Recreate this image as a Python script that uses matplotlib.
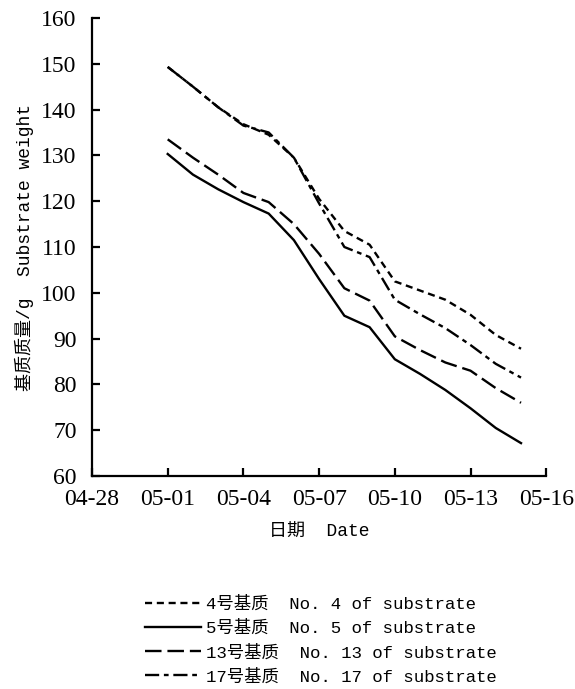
import numpy as np
import matplotlib
matplotlib.use("Agg")
import matplotlib.pyplot as plt
import matplotlib.dates as mdates
from datetime import date, timedelta

# 日期: 05-01 ~ 05-15
dates = [date(2000, 5, 1) + timedelta(days=i) for i in range(15)]

# 基质质量 / g
no4 = [149.3, 145.0, 140.5, 136.8, 134.5, 129.5, 120.5, 113.5, 110.5, 102.5, 100.5, 98.5, 95.2, 90.8, 87.8]
no5 = [130.3, 125.8, 122.6, 119.8, 117.3, 111.5, 103.0, 95.0, 92.5, 85.5, 82.3, 78.8, 74.8, 70.5, 67.2]
no13 = [133.5, 129.5, 125.8, 121.8, 119.8, 115.0, 108.5, 101.0, 98.3, 90.5, 87.5, 84.8, 83.0, 79.2, 76.0]
no17 = [149.3, 145.0, 140.5, 136.5, 135.0, 129.5, 119.5, 110.0, 107.8, 98.5, 95.3, 92.3, 88.6, 84.5, 81.5]

labels = ["4号基质  No. 4 of substrate", "5号基质  No. 5 of substrate",
          "13号基质  No. 13 of substrate", "17号基质  No. 17 of substrate"]

xticks = [date(2000, 4, 28) + timedelta(days=3 * i) for i in range(7)]
yticks = np.arange(60, 161, 10)

serif = ["Liberation Serif", "Noto Sans CJK SC"]
mono = ["Liberation Mono", "Noto Sans CJK SC"]

fig = plt.figure(figsize=(5.75, 6.89), dpi=100)
ax = fig.add_axes([0.16, 0.309, 0.79, 0.665])

lw = 1.7
ax.plot(dates, no4, color="black", lw=lw, linestyle=(0, (3, 2)), label=labels[0])
ax.plot(dates, no5, color="black", lw=lw, linestyle="-", label=labels[1])
ax.plot(dates, no13, color="black", lw=lw, linestyle=(0, (7, 2.5)), label=labels[2])
ax.plot(dates, no17, color="black", lw=lw, linestyle=(0, (6, 2, 2, 2)), label=labels[3])

ax.set_xlim(xticks[0], xticks[-1])
ax.set_ylim(60, 160)
ax.set_xticks(xticks)
ax.xaxis.set_major_formatter(mdates.DateFormatter("%m-%d"))
ax.set_yticks(yticks)

for s in ["top", "right"]:
    ax.spines[s].set_visible(False)
for s in ["left", "bottom"]:
    ax.spines[s].set_linewidth(1.6)

ax.tick_params(direction="in", length=6, width=1.6)
ax.tick_params(axis="x", pad=9)
ax.tick_params(axis="y", pad=11)
for t in ax.get_xticklabels() + ax.get_yticklabels():
    t.set_fontfamily(serif)
    t.set_fontsize(17)

ax.set_xlabel("日期  Date", family=mono, fontsize=13, labelpad=10)
ax.set_ylabel("基质质量/g  Substrate weight", family=mono, fontsize=13, labelpad=5)

leg = ax.legend(loc="upper left", bbox_to_anchor=(0.225, 0.158), bbox_transform=fig.transFigure,
                frameon=False, prop={"family": mono, "size": 12.5},
                handlelength=3.2, handletextpad=0.3, labelspacing=0.45)

fig.savefig("out.png", dpi=100)
